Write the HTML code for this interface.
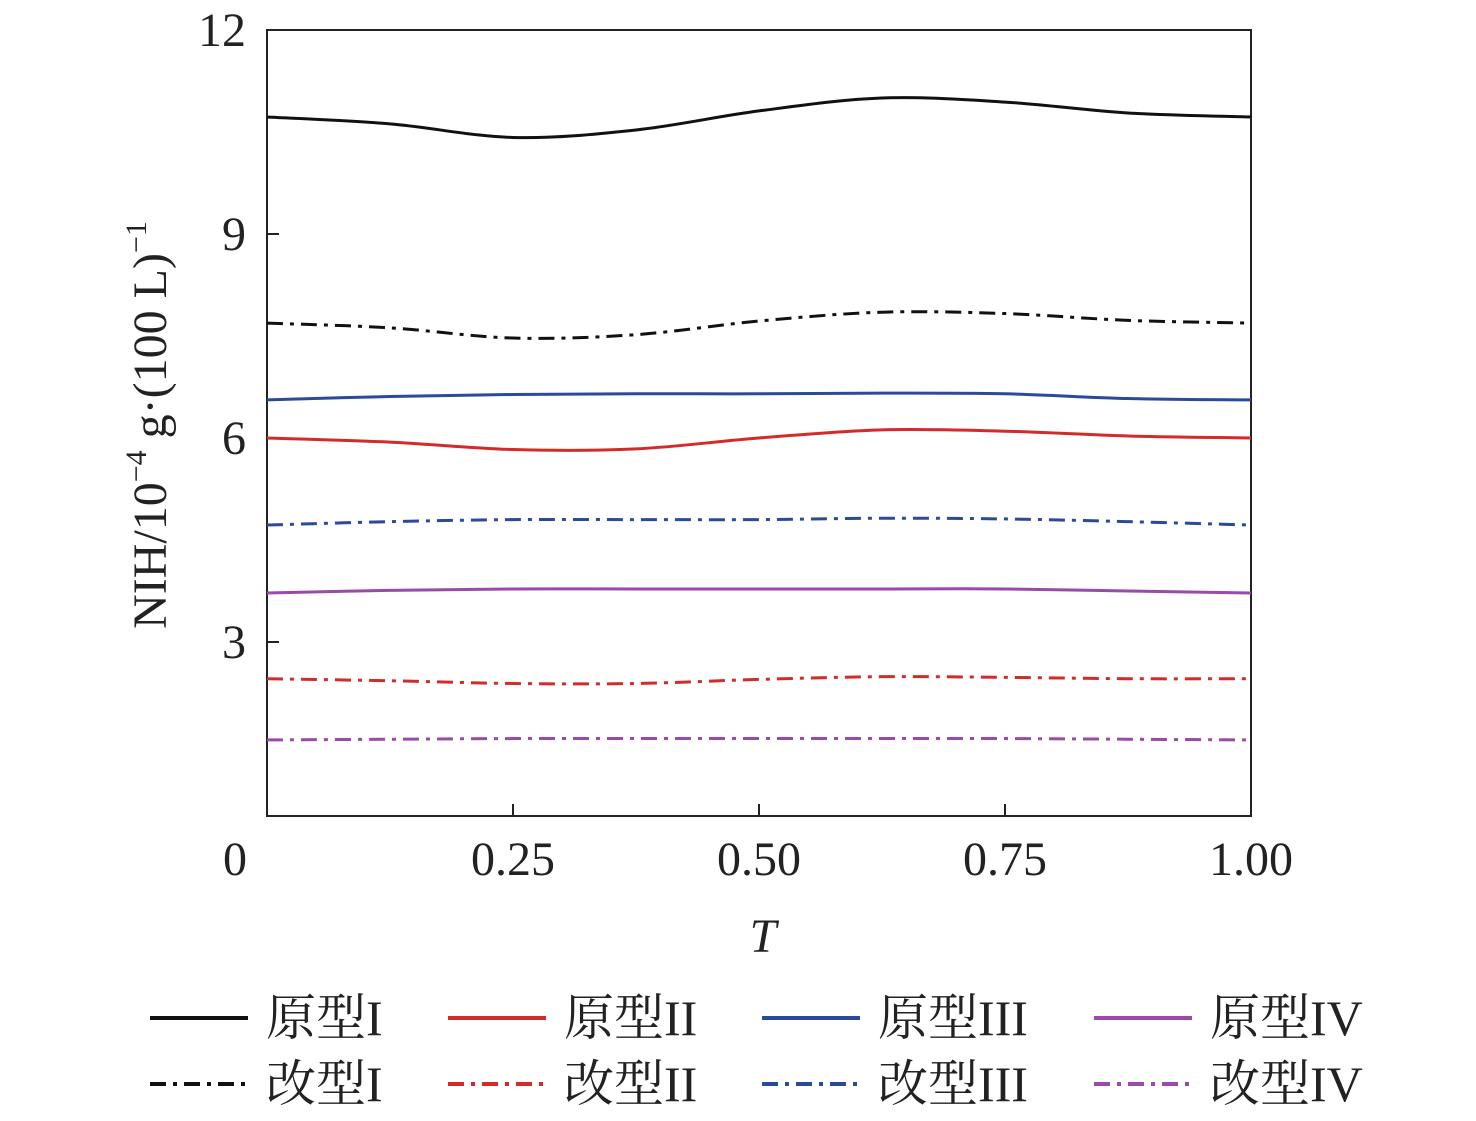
<!DOCTYPE html>
<html><head><meta charset="utf-8"><style>
html,body{margin:0;padding:0;background:#fff;}
svg text{font-family:"Liberation Serif","Noto Serif CJK SC",serif;fill:#222;}
</style></head><body>
<svg id="chart" width="1476" height="1116" xmlns="http://www.w3.org/2000/svg">
<g id="plot"></g>
</svg>
<script>
const tValues = [0,0.125,0.25,0.375,0.5,0.625,0.75,0.875,1];
const proto1 = [10.72,10.62,10.42,10.53,10.81,11.0,10.94,10.78,10.72];
const mod1 = [7.69,7.62,7.47,7.52,7.72,7.85,7.83,7.73,7.69];
const proto3 = [6.56,6.61,6.64,6.65,6.65,6.66,6.65,6.58,6.56];
const proto2 = [6.0,5.94,5.83,5.84,6.0,6.12,6.1,6.03,6.0];
const mod3 = [4.72,4.77,4.8,4.8,4.8,4.82,4.81,4.77,4.72];
const proto4 = [3.72,3.76,3.78,3.78,3.78,3.78,3.78,3.75,3.72];
const mod2 = [2.46,2.43,2.39,2.39,2.45,2.49,2.48,2.46,2.46];
const mod4 = [1.56,1.57,1.58,1.58,1.58,1.58,1.58,1.57,1.56];
const xTicks = [0,0.25,0.5,0.75,1];
const xTickLabels = ["0","0.25","0.50","0.75","1.00"];
const yTicks = [3,6,9,12];
const yTickLabels = ["3","6","9","12"];

const NS="http://www.w3.org/2000/svg";
const L=267,R=1251,T=30,B=816,yMin=12-(B-T)/68,yMax=12;
const sx=v=>L+(v-0)*(R-L);
const sy=v=>B-(v-yMin)/(yMax-yMin)*(B-T);
const svg=document.getElementById('chart');
function mk(tag,attrs,parent){const e=document.createElementNS(NS,tag);for(const k in attrs)e.setAttribute(k,attrs[k]);(parent||svg).appendChild(e);return e;}

const frame=mk('rect',{x:L,y:T,width:R-L,height:B-T,fill:'none',stroke:'#222','stroke-width':2});



xTicks.forEach((v,i)=>{
  const tk=mk('line',{x1:sx(v),x2:sx(v),y1:B,y2:B-12,stroke:'#222','stroke-width':2});
  
  
  const tx=mk('text',{x:i==0?sx(v)-32:sx(v),y:875,'font-size':48,'text-anchor':'middle'});
  tx.textContent=xTickLabels[i];
  
  
});
yTicks.forEach((v,i)=>{
  if(v<12){const tk=mk('line',{x1:L,x2:L+12,y1:sy(v),y2:sy(v),stroke:'#222','stroke-width':2});
  
  }
  const tx=mk('text',{x:246,y:sy(v)+16,'font-size':48,'text-anchor':'end'});
  tx.textContent=yTickLabels[i];
  
  
});

const xt=mk('text',{x:763,y:952,'font-size':48,'font-style':'italic','text-anchor':'middle'});
xt.textContent='T';



const yt=mk('text',{x:0,y:0,'font-size':48,'text-anchor':'middle',transform:'translate(166,425) rotate(-90)'});
yt.innerHTML='NIH/10<tspan font-size="30" dy="-20">−4</tspan><tspan dy="20"> g·(100 L)</tspan><tspan font-size="30" dy="-20">−1</tspan>';



function pathFor(vals){
  const p=vals.map((v,i)=>[sx(tValues[i]),sy(v)]);
  let d='M'+p[0][0]+','+p[0][1];
  for(let i=0;i<p.length-1;i++){
    const p0=p[Math.max(0,i-1)],p1=p[i],p2=p[i+1],p3=p[Math.min(p.length-1,i+2)];
    const c1=[p1[0]+(p2[0]-p0[0])/6,p1[1]+(p2[1]-p0[1])/6];
    const c2=[p2[0]-(p3[0]-p1[0])/6,p2[1]-(p3[1]-p1[1])/6];
    d+=' C'+c1+' '+c2+' '+p2;
  }
  return d;
}
const DD='16 7 4 7';
const series=[
 {v:proto1,c:'#111',d:null,n:'series-prototype-1'},
 {v:mod1,c:'#111',d:DD,n:'series-modified-1'},
 {v:proto3,c:'#2b4a9a',d:null,n:'series-prototype-3'},
 {v:proto2,c:'#d42a2a',d:null,n:'series-prototype-2'},
 {v:mod3,c:'#2b4a9a',d:DD,n:'series-modified-3'},
 {v:proto4,c:'#9a4aa8',d:null,n:'series-prototype-4'},
 {v:mod2,c:'#d42a2a',d:DD,n:'series-modified-2'},
 {v:mod4,c:'#9a4aa8',d:DD,n:'series-modified-4'}
];
series.forEach(s=>{
  const a={d:pathFor(s.v),fill:'none',stroke:s.c,'stroke-width':3};
  if(s.d)a['stroke-dasharray']=s.d;
  const p=mk('path',a);
  
  
});

const legend=[
 ['原型I','#111',null,150,1018],['原型II','#d42a2a',null,448,1018],['原型III','#2b4a9a',null,762,1018],['原型IV','#9a4aa8',null,1094,1018],
 ['改型I','#111',DD,150,1084],['改型II','#d42a2a',DD,448,1084],['改型III','#2b4a9a',DD,762,1084],['改型IV','#9a4aa8',DD,1094,1084]
];
legend.forEach(l=>{
  const g=mk('g',{});
  
  
  const a={x1:l[3],x2:l[3]+98,y1:l[4],y2:l[4],stroke:l[1],'stroke-width':4};
  if(l[2])a['stroke-dasharray']=l[2];
  mk('line',a,g);
  const t=mk('text',{x:l[3]+116,y:l[4]+17,'font-size':50},g);
  t.textContent=l[0];
});
</script>
</body></html>
